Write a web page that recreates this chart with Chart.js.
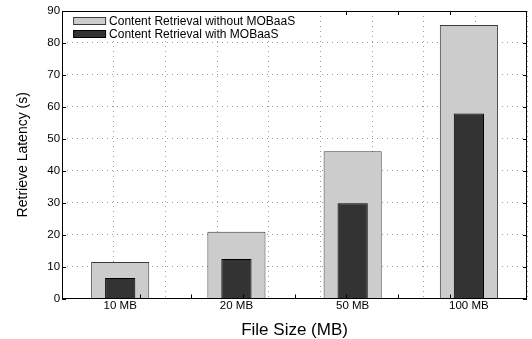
<!DOCTYPE html>
<html>
<head>
<meta charset="utf-8">
<script src="https://cdn.jsdelivr.net/npm/chart.js@4/dist/chart.umd.min.js"></script>
<style>
  html, body { margin: 0; padding: 0; background: #fff; }
  #wrap { width: 532px; height: 339px; }
</style>
</head>
<body>
<div id="wrap"><canvas id="latencyChart" width="532" height="339"></canvas></div>
<script>
// data
const fileSizes = ['10 MB', '20 MB', '50 MB', '100 MB'];
const withoutMobaas = [11.4, 20.9, 46.1, 85.6];
const withMobaas = [6.4, 12.4, 29.8, 57.9];
const yTicks = [0, 10, 20, 30, 40, 50, 60, 70, 80, 90];

const FONT = '"Liberation Sans", Arial, Helvetica, sans-serif';
const gridDash = [1, 4];
const gridColor = '#9a9a9a';

// box round the plot, inward tick marks and legend inside the plot
const frame = {
    id: 'frame',
    afterDraw(chart) {
        const ctx = chart.ctx;
        const a = chart.chartArea;
        const ys = chart.scales.y;
        const x2 = chart.scales.x2;
        ctx.save();
        ctx.strokeStyle = '#000';
        ctx.lineWidth = 1;
        ctx.beginPath();
        yTicks.forEach(function(v) {
            const py = Math.round(ys.getPixelForValue(v)) + 0.5;
            ctx.moveTo(a.left, py); ctx.lineTo(a.left + 4, py);
            ctx.moveTo(a.right, py); ctx.lineTo(a.right - 4, py);
        });
        for (let i = 1; i < 8; i++) {
            const px = Math.round(x2.getPixelForValue(i)) + 0.5;
            ctx.moveTo(px, a.top); ctx.lineTo(px, a.top + 4);
            ctx.moveTo(px, a.bottom); ctx.lineTo(px, a.bottom - 4);
        }
        ctx.stroke();

        // legend
        const lx = a.left + 1, ly = a.top + 1;
        ctx.fillStyle = '#fff';
        ctx.fillRect(lx, ly, 240, 29);
        ctx.font = '12px ' + FONT;
        ctx.textBaseline = 'middle';
        chart.data.datasets.forEach(function(ds, i) {
            const top = a.top + 6 + i * 13;
            ctx.fillStyle = ds.backgroundColor;
            ctx.fillRect(a.left + 11.5, top + 0.5, 32, 7);
            ctx.strokeStyle = ds.borderColor;
            ctx.strokeRect(a.left + 11.5, top + 0.5, 32, 7);
            ctx.fillStyle = '#000';
            ctx.fillText(ds.label, a.left + 47, top + 4.5);
        });

        ctx.strokeStyle = '#000';
        ctx.strokeRect(Math.round(a.left) + 0.5, Math.round(a.top) + 0.5,
            Math.round(a.right - a.left) - 1, Math.round(a.bottom - a.top) - 1);
        ctx.restore();
    }
};

const ctx = document.getElementById('latencyChart').getContext('2d');
const latencyChart = new Chart(ctx, {
    type: 'bar',
    data: {
        labels: fileSizes,
        datasets: [{
            label: 'Content Retrieval without MOBaaS',
            data: withoutMobaas,
            backgroundColor: '#cccccc',
            borderColor: '#3a3a3a',
            borderWidth: 1,
            barPercentage: 0.5,
            categoryPercentage: 1,
            grouped: false,
            order: 2
        },
        {
            label: 'Content Retrieval with MOBaaS',
            data: withMobaas,
            backgroundColor: '#333333',
            borderColor: '#000000',
            borderWidth: 1,
            barPercentage: 0.26,
            categoryPercentage: 1,
            grouped: false,
            order: 1
        }]
    },
    options: {
        responsive: false,
        animation: false,
        devicePixelRatio: 1,
        layout: { padding: { left: 9, right: 5, top: 11, bottom: 0 } },
        plugins: {
            legend: { display: false },
            tooltip: { enabled: false }
        },
        scales: {
            x: {
                grid: { display: false, drawTicks: false },
                border: { display: false },
                ticks: { color: '#000', padding: 2, font: { family: FONT, size: 11.5, lineHeight: 1 } },
                title: {
                    display: true,
                    text: 'File Size (MB)',
                    color: '#000',
                    font: { family: FONT, size: 17, lineHeight: 1 },
                    padding: { top: 8, bottom: 0 }
                }
            },
            x2: {
                type: 'linear',
                position: 'bottom',
                min: 0,
                max: 8,
                ticks: { display: false, stepSize: 1 },
                grid: { color: gridColor, drawTicks: false },
                border: { display: false, dash: gridDash },
                afterFit: function(scale) { scale.height = 0; }
            },
            y: {
                min: 0,
                max: 90,
                ticks: { stepSize: 10, color: '#000', padding: 2, font: { family: FONT, size: 11.5 } },
                grid: { color: gridColor, drawTicks: false },
                border: { display: false, dash: gridDash },
                title: {
                    display: true,
                    text: 'Retrieve Latency (s)',
                    color: '#000',
                    font: { family: FONT, size: 14 },
                    padding: { top: 5.5, bottom: 14 }
                }
            }
        }
    },
    plugins: [frame]
});
</script>
</body>
</html>
